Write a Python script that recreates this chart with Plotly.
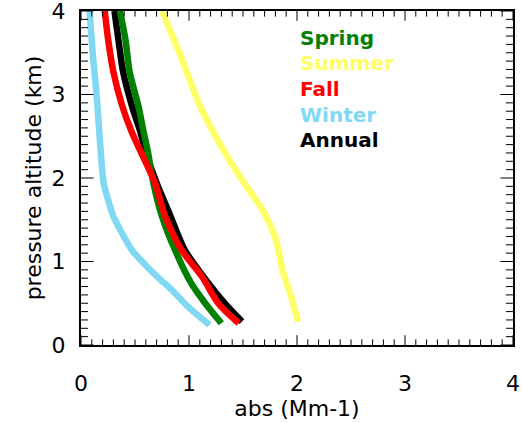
import numpy as np
import plotly.graph_objects as go

# Data (abs in Mm-1 vs pressure altitude in km)
spring_x = [0.36, 0.41, 0.45, 0.53, 0.58, 0.62, 0.67, 0.75, 0.87, 1.02, 1.15, 1.30]
spring_y = [4.0, 3.67, 3.27, 2.87, 2.55, 2.31, 1.94, 1.54, 1.14, 0.74, 0.50, 0.26]

summer_x = [0.75, 0.92, 1.10, 1.29, 1.50, 1.69, 1.80, 1.87, 1.95, 2.01]
summer_y = [4.0, 3.47, 2.87, 2.40, 1.96, 1.60, 1.28, 0.88, 0.56, 0.28]

fall_x = [0.22, 0.25, 0.30, 0.38, 0.47, 0.555, 0.685, 0.78, 0.93, 1.12, 1.27, 1.46]
fall_y = [4.0, 3.67, 3.27, 2.87, 2.55, 2.31, 1.94, 1.54, 1.14, 0.82, 0.50, 0.26]

winter_x = [0.08, 0.11, 0.145, 0.18, 0.21, 0.25, 0.30, 0.38, 0.47, 0.61, 0.72, 0.84, 0.99, 1.19]
winter_y = [4.0, 3.47, 2.99, 2.36, 1.94, 1.74, 1.54, 1.34, 1.14, 0.94, 0.80, 0.66, 0.46, 0.24]

annual_x = [0.31, 0.345, 0.39, 0.47, 0.55, 0.60, 0.70, 0.83, 0.96, 1.18, 1.33, 1.49]
annual_y = [4.0, 3.67, 3.27, 2.87, 2.55, 2.31, 1.94, 1.54, 1.14, 0.74, 0.50, 0.28]

legend_labels = ["Spring", "Summer", "Fall", "Winter", "Annual"]
colors = {"Spring": "#008000", "Summer": "#ffff66", "Fall": "#ff0000",
          "Winter": "#80d8f5", "Annual": "#000000"}

axis_range = [0, 4]
major_ticks = [0, 1, 2, 3, 4]
minor_ticks = [round(v, 1) for v in np.arange(0, 4.0001, 0.1) if abs(v - round(v)) > 1e-6]

fig = go.Figure()
series = [("Annual", annual_x, annual_y), ("Spring", spring_x, spring_y),
          ("Summer", summer_x, summer_y), ("Fall", fall_x, fall_y),
          ("Winter", winter_x, winter_y)]
for name, xs, ys in series:
    fig.add_trace(go.Scatter(x=xs, y=ys, mode="lines", name=name,
                             line=dict(color=colors[name], width=6.5, shape="spline", smoothing=0.8),
                             showlegend=False))

# inside tick marks on all four sides: line markers centred on the box edge,
# clipped to the plot area so only the inner half shows
lo, hi = axis_range
for vals, xsize, ysize in ((major_ticks, 14, 18), (minor_ticks, 8, 10)):
    n = len(vals)
    for ex in (lo, hi):      # left / right edges -> y ticks
        fig.add_trace(go.Scatter(x=[ex] * n, y=vals, mode="markers", cliponaxis=True,
                                 marker=dict(symbol="line-ew", size=ysize, color="black",
                                             line=dict(width=1, color="black")),
                                 showlegend=False, hoverinfo="skip"))
    for ey in (lo, hi):      # bottom / top edges -> x ticks
        fig.add_trace(go.Scatter(x=vals, y=[ey] * n, mode="markers", cliponaxis=True,
                                 marker=dict(symbol="line-ns", size=xsize, color="black",
                                             line=dict(width=1, color="black")),
                                 showlegend=False, hoverinfo="skip"))

leg_y = [3.68, 3.38, 3.07, 2.75, 2.46]
for lab, yy in zip(legend_labels, leg_y):
    fig.add_annotation(x=2.01, y=yy, xref="x", yref="y", text="<b>%s</b>" % lab,
                       showarrow=False, xanchor="left", yanchor="middle",
                       font=dict(family="DejaVu Sans", size=20, color=colors[lab]))

axis_common = dict(showgrid=False, zeroline=False, showline=True, linecolor="black",
                   linewidth=2, mirror=True, ticks="", tickvals=major_ticks,
                   automargin=False, ticklabeloverflow="allow",
                   tickfont=dict(family="DejaVu Sans", size=22, color="black"),
                   range=axis_range)

fig.update_layout(
    width=522, height=423,
    margin=dict(l=81, r=9, t=11, b=78),
    paper_bgcolor="white", plot_bgcolor="white",
    xaxis=dict(**axis_common, ticklabelstandoff=18,
               title=dict(text="abs (Mm-1)", standoff=4,
                          font=dict(family="DejaVu Sans", size=22, color="black"))),
    yaxis=dict(**axis_common, ticklabelstandoff=9,
               title=dict(text="pressure altitude (km)", standoff=4,
                          font=dict(family="DejaVu Sans", size=22, color="black"))),
)

fig.write_html("out.html")
